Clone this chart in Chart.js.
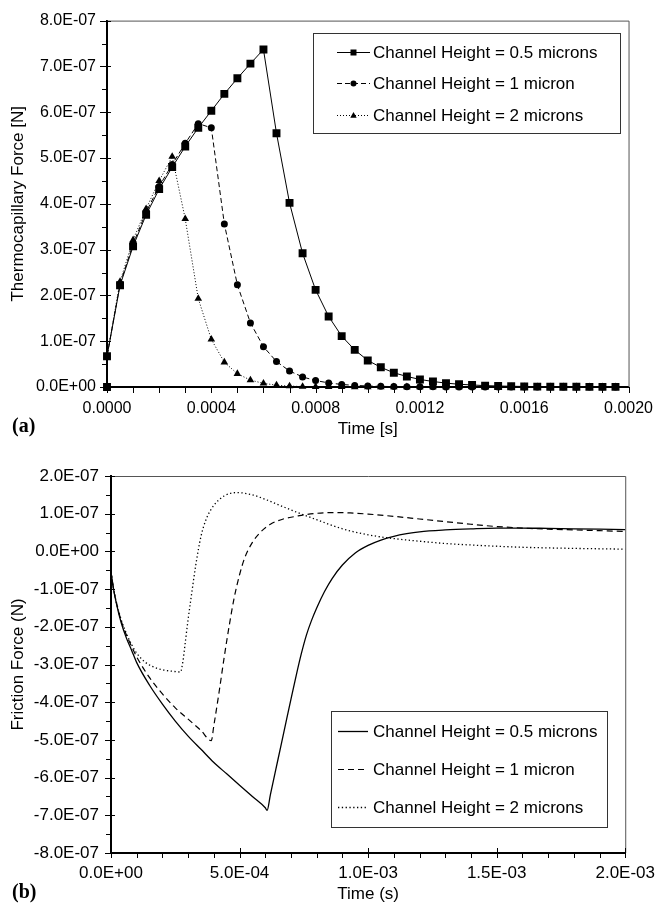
<!DOCTYPE html>
<html><head><meta charset="utf-8">
<script src="https://cdn.jsdelivr.net/npm/chart.js@4.4.1/dist/chart.umd.min.js"></script>
<style>
html,body{margin:0;padding:0;background:#fff;overflow:hidden;}
#wrapA{position:absolute;left:0;top:0;width:665px;height:440px;}
#wrapB{position:absolute;left:0;top:440px;width:665px;height:466px;}
</style></head><body>
<div id="wrapA"><canvas id="chartA" width="665" height="440"></canvas></div>
<div id="wrapB"><canvas id="chartB" width="665" height="466"></canvas></div>
<script>
// ---------- (a) Thermocapillary force, values in units of 1e-7 N ----------
const timeA = [0, 0, 0.00005, 0.0001, 0.00015, 0.0002, 0.00025, 0.0003, 0.00035, 0.0004,
  0.00045, 0.0005, 0.00055, 0.0006, 0.00065, 0.0007, 0.00075, 0.0008, 0.00085, 0.0009,
  0.00095, 0.001, 0.00105, 0.0011, 0.00115, 0.0012, 0.00125, 0.0013, 0.00135, 0.0014,
  0.00145, 0.0015, 0.00155, 0.0016, 0.00165, 0.0017, 0.00175, 0.0018, 0.00185, 0.0019, 0.00195];
const forceA_05 = [0, 0.67, 2.22, 3.07, 3.76, 4.32, 4.80, 5.25, 5.66, 6.03,
  6.40, 6.74, 7.06, 7.37, 5.54, 4.02, 2.92, 2.12, 1.54, 1.11,
  0.81, 0.58, 0.43, 0.31, 0.23, 0.165, 0.12, 0.085, 0.06, 0.045,
  0.03, 0.022, 0.016, 0.012, 0.009, 0.006, 0.005, 0.004, 0.003, 0.002, 0.002];
const forceA_1 = [0, 0.67, 2.25, 3.12, 3.82, 4.38, 4.86, 5.32, 5.75, 5.66,
  3.56, 2.23, 1.40, 0.88, 0.556, 0.35, 0.22, 0.14, 0.09, 0.055,
  0.035, 0.022, 0.014, 0.009, 0.006, 0.004, 0.003, 0.002, 0.001, 0.001,
  0, 0, 0, 0, 0, 0, 0, 0, 0, 0, 0];
const forceA_2 = [0, 0.67, 2.30, 3.21, 3.89, 4.50, 5.03, 3.67, 1.93, 1.04,
  0.54, 0.29, 0.15, 0.08, 0.04, 0.02, 0.01, 0.005, 0.003, 0.002,
  0.001, 0, 0, 0, 0, 0, 0, 0, 0, 0,
  0, 0, 0, 0, 0, 0, 0, 0, 0, 0, 0];
const labelsA = ['Channel Height = 0.5 microns', 'Channel Height = 1 micron', 'Channel Height = 2 microns'];

// ---------- (b) Friction force, values in units of 1e-7 N ----------
const timeB_05 = [0, 0.00001, 0.00002, 0.00004, 0.00006, 0.00008, 0.0001, 0.00015, 0.0002, 0.00025,
  0.0003, 0.00035, 0.0004, 0.00045, 0.0005, 0.00055, 0.0006, 0.000607, 0.00062, 0.00065,
  0.00068, 0.0007, 0.00072, 0.00074, 0.00076, 0.00078, 0.0008, 0.00083, 0.00086, 0.0009,
  0.00095, 0.001, 0.00105, 0.0011, 0.00115, 0.0012, 0.0013, 0.0014, 0.0015, 0.0016,
  0.0017, 0.0018, 0.0019, 0.002];
const forceB_05 = [-0.55, -1.0, -1.35, -1.9, -2.3, -2.62, -2.95, -3.55, -4.05, -4.5,
  -4.9, -5.25, -5.6, -5.9, -6.2, -6.5, -6.8, -6.87, -6.45, -5.5,
  -4.55, -3.92, -3.3, -2.72, -2.22, -1.83, -1.5, -1.07, -0.72, -0.36,
  -0.04, 0.16, 0.3, 0.4, 0.47, 0.52, 0.57, 0.6, 0.62, 0.62,
  0.61, 0.6, 0.59, 0.58];
const timeB_1 = [0, 0.00001, 0.00002, 0.00004, 0.00006, 0.00008, 0.0001, 0.00015, 0.0002, 0.00025,
  0.0003, 0.00035, 0.00039, 0.0004, 0.00042, 0.00044, 0.00046, 0.00048, 0.0005, 0.00052,
  0.00055, 0.00058, 0.00062, 0.00067, 0.00072, 0.00076, 0.0008, 0.00087, 0.00093, 0.001,
  0.0011, 0.0012, 0.0013, 0.0014, 0.0015, 0.0016, 0.0017, 0.0018, 0.0019, 0.002];
const forceB_1 = [-0.55, -1.0, -1.33, -1.85, -2.22, -2.52, -2.8, -3.35, -3.78, -4.15,
  -4.45, -4.75, -5.02, -4.62, -3.75, -2.82, -1.96, -1.2, -0.62, -0.17,
  0.24, 0.5, 0.72, 0.86, 0.93, 0.98, 1.01, 1.03, 1.02, 0.99,
  0.93, 0.86, 0.79, 0.72, 0.66, 0.62, 0.59, 0.57, 0.55, 0.53];
const timeB_2 = [0, 0.00001, 0.00002, 0.00004, 0.00006, 0.00008, 0.0001, 0.00013, 0.00016, 0.0002,
  0.00024, 0.00027, 0.00028, 0.00029, 0.0003, 0.00031, 0.00033, 0.00035, 0.00037, 0.0004,
  0.00044, 0.00049, 0.00055, 0.0006, 0.0007, 0.0008, 0.0009, 0.001, 0.0011, 0.0012,
  0.0013, 0.0014, 0.0016, 0.0018, 0.002];
const forceB_2 = [-0.55, -1.0, -1.32, -1.82, -2.18, -2.47, -2.7, -2.92, -3.05, -3.14,
  -3.18, -3.2, -2.9, -2.35, -1.8, -1.3, -0.35, 0.4, 0.85, 1.22,
  1.47, 1.56, 1.5, 1.38, 1.1, 0.84, 0.6, 0.44, 0.34, 0.27,
  0.21, 0.17, 0.11, 0.08, 0.06];
const labelsB = ['Channel Height = 0.5 microns', 'Channel Height = 1 micron', 'Channel Height = 2 microns'];

// ---------- helpers ----------
const FONT = '"Liberation Sans", Arial, Helvetica, sans-serif';
Chart.defaults.font.family = FONT;
Chart.defaults.color = '#000';
const isMult = (v, s) => Math.abs(v / s - Math.round(v / s)) < 1e-6;
const fmtE = v => {
  if (Math.abs(v) < 1e-20) return '0.0E+00';
  const [m, e] = v.toExponential(1).split('e');
  const n = parseInt(e, 10);
  return m + 'E' + (n < 0 ? '-' : '+') + String(Math.abs(n)).padStart(2, '0');
};
const pts = (xs, ys) => xs.map((x, i) => ({x: x, y: ys[i]}));

const framePlugin = {
  id: 'frameTicks',
  afterDraw(chart, args, o) {
    const ctx = chart.ctx;
    const {left, right, top, bottom} = chart.chartArea;
    ctx.save();
    ctx.strokeStyle = '#555'; ctx.lineWidth = 1; ctx.setLineDash([]);
    ctx.beginPath();
    ctx.moveTo(left, top + 0.5); ctx.lineTo(right + 0.5, top + 0.5); ctx.lineTo(right + 0.5, bottom);
    ctx.stroke();
    ctx.strokeStyle = '#000'; ctx.lineWidth = 1;
    const xs = chart.scales.x, ys = chart.scales.y;
    xs.ticks.forEach(t => {
      const px = Math.round(xs.getPixelForValue(t.value)) + 0.5;
      const major = isMult(t.value, o.xMajor);
      ctx.beginPath();
      ctx.moveTo(px, bottom - (major ? o.xIn : 0));
      ctx.lineTo(px, bottom + (major ? o.xOutMajor : o.xOutMinor));
      ctx.stroke();
    });
    ys.ticks.forEach(t => {
      const py = Math.round(ys.getPixelForValue(t.value)) + 0.5;
      const major = isMult(t.value, o.yMajor);
      ctx.beginPath();
      ctx.moveTo(left - (major ? o.yOutMajor : o.yOutMinor), py);
      ctx.lineTo(left + (major ? o.yIn : 0), py);
      ctx.stroke();
    });
    // panel letter
    ctx.font = 'bold 20px "Liberation Serif", "Times New Roman", serif';
    ctx.fillStyle = '#000'; ctx.textAlign = 'left'; ctx.textBaseline = 'middle';
    ctx.fillText(o.panel, o.panelX, o.panelY);
    ctx.restore();
  }
};

function drawMarker(ctx, style, x, y, r) {
  ctx.beginPath();
  if (style === 'rect') { ctx.rect(x - r, y - r, 2 * r, 2 * r); }
  else if (style === 'circle') { ctx.arc(x, y, r, 0, Math.PI * 2); }
  else if (style === 'triangle') {
    ctx.moveTo(x, y - r * 1.1); ctx.lineTo(x + r, y + r * 0.7); ctx.lineTo(x - r, y + r * 0.7); ctx.closePath();
  }
  ctx.fill();
}

const legendPlugin = {
  id: 'boxLegend',
  afterDraw(chart, args, o) {
    const ctx = chart.ctx;
    ctx.save();
    ctx.fillStyle = '#fff';
    ctx.fillRect(o.box[0], o.box[1], o.box[2] - o.box[0], o.box[3] - o.box[1]);
    ctx.strokeStyle = '#333'; ctx.lineWidth = 1; ctx.setLineDash([]);
    ctx.strokeRect(o.box[0] + 0.5, o.box[1] + 0.5, o.box[2] - o.box[0], o.box[3] - o.box[1]);
    chart.data.datasets.forEach((ds, i) => {
      const y = o.rows[i];
      ctx.strokeStyle = '#000';
      ctx.lineWidth = ds.borderWidth;
      ctx.setLineDash(ds.borderDash || []);
      ctx.beginPath(); ctx.moveTo(o.x0, y + 0.5); ctx.lineTo(o.x1, y + 0.5); ctx.stroke();
      ctx.setLineDash([]);
      if (o.markers) { ctx.fillStyle = '#000'; drawMarker(ctx, ds.pointStyle, (o.x0 + o.x1) / 2, y + 0.5, o.markerR[i]); }
      ctx.fillStyle = '#000';
      ctx.font = o.fontSize + 'px ' + FONT;
      ctx.textAlign = 'left'; ctx.textBaseline = 'middle';
      ctx.fillText(ds.label, o.tx, y + 1);
    });
    ctx.restore();
  }
};

// ---------- Chart (a) ----------
const styleA = [
  {pointStyle: 'rect', pointRadius: 5.6, borderDash: []},
  {pointStyle: 'circle', pointRadius: 3.5, borderDash: [5, 3]},
  {pointStyle: 'triangle', pointRadius: 4.4, borderDash: [1, 2]}
];
const seriesA = [forceA_05, forceA_1, forceA_2];
new Chart(document.getElementById('chartA'), {
  type: 'line',
  data: {
    datasets: seriesA.map((s, i) => ({
      label: labelsA[i],
      data: pts(timeA, s),
      borderColor: '#000', backgroundColor: '#000',
      borderWidth: 1, borderDash: styleA[i].borderDash,
      pointStyle: styleA[i].pointStyle, pointRadius: styleA[i].pointRadius,
      pointBorderWidth: 0, pointBackgroundColor: '#000',
      tension: 0, clip: 10
    }))
  },
  options: {
    responsive: false, animation: false, devicePixelRatio: 1,
    layout: {padding: {left: 0, top: 13, right: 26, bottom: 0}},
    plugins: {
      legend: {display: false}, tooltip: {enabled: false},
      frameTicks: {xMajor: 0.0004, yMajor: 1, xIn: 0, xOutMajor: 6, xOutMinor: 6, yIn: 4, yOutMajor: 7, yOutMinor: 5,
        panel: '(a)', panelX: 12, panelY: 427},
      boxLegend: {box: [313, 33, 620, 133], rows: [52, 83, 115], x0: 337, x1: 370, tx: 373, fontSize: 17,
        markers: true, markerR: [3, 3, 3.2]}
    },
    scales: {
      x: {
        type: 'linear', min: 0, max: 0.002,
        afterFit: s => { s.height = 53; },
        grid: {display: false, drawTicks: false},
        border: {display: true, color: '#000', width: 2},
        ticks: {stepSize: 0.0001, autoSkip: false, maxRotation: 0, padding: 12, font: {size: 16}, color: '#000',
          callback: v => isMult(v, 0.0004) ? v.toFixed(4) : ''},
        title: {display: true, text: 'Time [s]', font: {size: 17}, color: '#000', padding: {top: 0, bottom: 0}}
      },
      y: {
        type: 'linear', min: 0, max: 8,
        afterFit: s => { s.width = 107; },
        grid: {display: false, drawTicks: false},
        border: {display: true, color: '#000', width: 2},
        ticks: {stepSize: 0.5, autoSkip: false, padding: 11, font: {size: 16}, color: '#000',
          callback: v => isMult(v, 1) ? fmtE(v * 1e-7) : ''},
        title: {display: true, text: 'Thermocapillary Force [N]', font: {size: 17}, color: '#000', padding: {top: 8, bottom: 0}}
      }
    }
  },
  plugins: [framePlugin, legendPlugin]
});

// ---------- Chart (b) ----------
const styleB = [
  {borderDash: [], borderWidth: 1.3},
  {borderDash: [6, 4], borderWidth: 1.2},
  {borderDash: [1.3, 2.5], borderWidth: 1.3}
];
const seriesB = [pts(timeB_05, forceB_05), pts(timeB_1, forceB_1), pts(timeB_2, forceB_2)];
new Chart(document.getElementById('chartB'), {
  type: 'line',
  data: {
    datasets: seriesB.map((d, i) => ({
      label: labelsB[i],
      data: d,
      borderColor: '#000', backgroundColor: '#000',
      borderWidth: styleB[i].borderWidth, borderDash: styleB[i].borderDash,
      pointRadius: 0, cubicInterpolationMode: 'monotone', clip: 4
    }))
  },
  options: {
    responsive: false, animation: false, devicePixelRatio: 1,
    layout: {padding: {left: 0, top: 36, right: 32, bottom: 0}},
    plugins: {
      legend: {display: false}, tooltip: {enabled: false},
      frameTicks: {xMajor: 0.0005, yMajor: 1, xIn: 5, xOutMajor: 5, xOutMinor: 5, yIn: 4, yOutMajor: 6, yOutMinor: 5,
        panel: '(b)', panelX: 12, panelY: 453},
      boxLegend: {box: [331, 271, 607, 387], rows: [291, 329, 367], x0: 338, x1: 368, tx: 373, fontSize: 17,
        markers: false}
    },
    scales: {
      x: {
        type: 'linear', min: 0, max: 0.002,
        afterFit: s => { s.height = 466 - 413; },
        grid: {display: false, drawTicks: false},
        border: {display: true, color: '#000', width: 2},
        ticks: {stepSize: 0.0001, autoSkip: false, maxRotation: 0, padding: 10, font: {size: 17}, color: '#000',
          callback: v => isMult(v, 0.0005) ? fmtE(v) : ''},
        title: {display: true, text: 'Time (s)', font: {size: 17}, color: '#000', padding: {top: 0, bottom: 1}}
      },
      y: {
        type: 'linear', min: -8, max: 2,
        afterFit: s => { s.width = 111; },
        grid: {display: false, drawTicks: false},
        border: {display: true, color: '#000', width: 2},
        ticks: {stepSize: 0.5, autoSkip: false, padding: 12, font: {size: 17}, color: '#000',
          callback: v => isMult(v, 1) ? fmtE(v * 1e-7) : ''},
        title: {display: true, text: 'Friction Force (N)', font: {size: 17}, color: '#000', padding: {top: 8, bottom: 0}}
      }
    }
  },
  plugins: [framePlugin, legendPlugin]
});
</script>
</body></html>
